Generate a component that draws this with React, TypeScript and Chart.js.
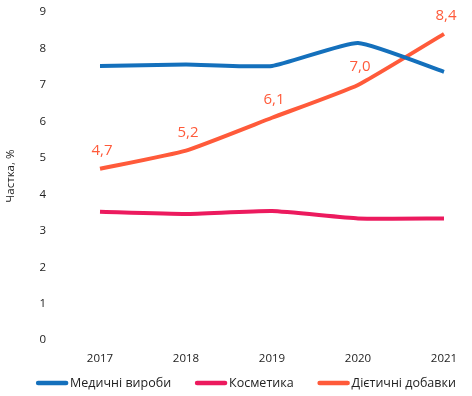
import React, { useEffect, useRef } from "react";
import { Chart, registerables } from "chart.js";

Chart.register(...registerables);

const years = ["2017", "2018", "2019", "2020", "2021"];
const medical = [7.52, 7.56, 7.52, 8.15, 7.36];
const cosmetics = [3.52, 3.46, 3.54, 3.34, 3.34];
const dietary = [4.7, 5.2, 6.1, 7.0, 8.4];
const seriesNames = ["Медичні вироби", "Косметика", "Дієтичні добавки"];
const yTicks = [0, 1, 2, 3, 4, 5, 6, 7, 8, 9];

const BLUE = "#1470bc";
const PINK = "#ec1a5e";
const ORANGE = "#ff5a3a";
const COLORS = [BLUE, PINK, ORANGE];
const FONT = "'Open Sans', 'Noto Sans', sans-serif";

const labelPlugin = {
  id: "valueLabels",
  afterDatasetsDraw(chart: any) {
    const ctx = chart.ctx;
    const meta = chart.getDatasetMeta(2);
    ctx.save();
    ctx.fillStyle = ORANGE;
    ctx.font = `15px ${FONT}`;
    ctx.textAlign = "center";
    ctx.textBaseline = "middle";
    meta.data.forEach((pt: any, i: number) => {
      const v = dietary[i];
      ctx.fillText(v.toFixed(1).replace(".", ","), pt.x + 2, pt.y - 18);
    });
    ctx.restore();
  },
};

const legendPlugin = {
  id: "customLegend",
  afterDraw(chart: any) {
    const ctx = chart.ctx;
    ctx.save();
    ctx.font = `12.5px ${FONT}`;
    ctx.textBaseline = "middle";
    const boxW = 32;
    const gapText = 2;
    const gapItem = 24;
    const widths = seriesNames.map((n) => boxW + gapText + ctx.measureText(n).width);
    const total = widths.reduce((a, b) => a + b, 0) + gapItem * (seriesNames.length - 1);
    let x = (chart.width - total) / 2 + 10;
    const y = 383;
    seriesNames.forEach((n, i) => {
      ctx.strokeStyle = COLORS[i];
      ctx.lineWidth = 4.5;
      ctx.lineCap = "round";
      ctx.beginPath();
      ctx.moveTo(x + 2, y);
      ctx.lineTo(x + boxW - 2, y);
      ctx.stroke();
      ctx.fillStyle = "#222";
      ctx.fillText(n, x + boxW + gapText, y);
      x += widths[i] + gapItem;
    });
    ctx.restore();
  },
};

export default function App() {
  const ref = useRef<HTMLCanvasElement>(null);
  useEffect(() => {
    if (!ref.current) return;
    const chart = new Chart(ref.current, {
      type: "line",
      data: {
        labels: years,
        datasets: [medical, cosmetics, dietary].map((d, i) => ({
          label: seriesNames[i],
          data: d,
          borderColor: COLORS[i],
          backgroundColor: COLORS[i],
          borderWidth: 4,
          pointRadius: 0,
          tension: 0.15,
          clip: false as any,
        })),
      },
      options: {
        animation: false,
        responsive: true,
        maintainAspectRatio: false,
        layout: { padding: { top: 12, right: 28, left: 0, bottom: 18 } },
        plugins: {
          tooltip: { enabled: false },
          legend: { display: false },
        },
        scales: {
          x: {
            type: "category",
            offset: false,
            grid: { display: false, drawTicks: false },
            border: { display: false },
            ticks: { color: "#222", font: { family: FONT, size: 11.5 }, padding: 12, maxRotation: 0 },
          },
          y: {
            min: 0,
            max: 9,
            grid: { display: false, drawTicks: false },
            border: { display: false },
            afterBuildTicks: (s: any) => {
              s.ticks = yTicks.map((v) => ({ value: v }));
            },
            afterFit: (s: any) => {
              s.width = 100;
              s.paddingTop = 6;
              s.paddingBottom = 6;
            },
            ticks: { color: "#222", font: { family: FONT, size: 11.5 }, padding: 54 },
            title: {
              display: true,
              text: "Частка, %",
              color: "#222",
              font: { family: FONT, size: 11.5 },
              padding: { top: 4, bottom: 4 },
            },
          },
        },
      },
      plugins: [labelPlugin, legendPlugin],
    } as any);
    return () => chart.destroy();
  }, []);
  return (
    <div style={{ position: "fixed", left: 0, top: 0, width: 472, height: 396, background: "#fff" }}>
      <canvas ref={ref} />
    </div>
  );
}
